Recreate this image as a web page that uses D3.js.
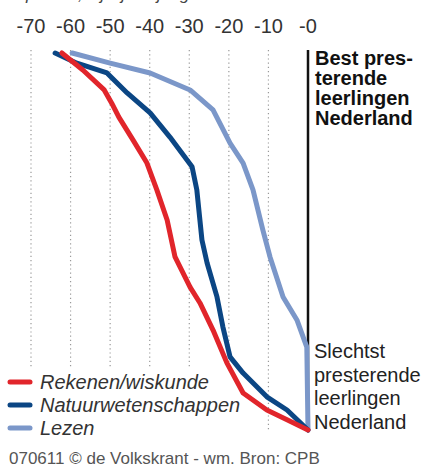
<!DOCTYPE html>
<html>
<head>
<meta charset="utf-8">
<script src="https://cdn.jsdelivr.net/npm/d3@7"></script>
<style>
  body { margin: 0; background: #fff; }
  svg { display: block; font-family: "Liberation Sans", Arial, sans-serif; }
</style>
</head>
<body>
<svg id="chart" width="423" height="468"></svg>
<script>
// DATA - achterstand in punten (x) per positie in de rangorde (y, 0 = best, 100 = slechtst)
var xTicks = [-70, -60, -50, -40, -30, -20, -10, 0];
var seriesNames = ["Rekenen/wiskunde", "Natuurwetenschappen", "Lezen"];
var seriesColours = ["#e1252b", "#0b4684", "#7b97c9"];

var rekenenGap = [-62.2, -56.9, -51.5, -49.6, -47.8, -44.2, -40.7, -38.2, -35.6, -33.6, -29.8, -27.3, -24.0, -20.5, -16.4, -10.4, -5.3, 0];
var rekenenRank = [0, 4.5, 9.8, 13.3, 17.0, 23.1, 29.2, 36.3, 44.3, 54.1, 62.1, 66.3, 73.5, 82.2, 90.2, 94.7, 97.3, 100];

var natuurGap = [-63.9, -58.4, -50.8, -45.7, -39.9, -34.9, -29.3, -28.1, -26.8, -25.5, -23.0, -21.5, -19.7, -16.4, -10.4, -5.3, 0];
var natuurRank = [0, 2.7, 5.3, 10.6, 15.9, 22.3, 30.2, 36.3, 49.6, 55.7, 64.7, 72.7, 80.6, 84.9, 91.2, 94.7, 100];

var lezenGap = [-59.6, -50.0, -39.9, -29.8, -24.0, -19.7, -16.4, -13.9, -11.4, -9.6, -6.3, -2.8, -0.3, 0];
var lezenRank = [0, 2.7, 5.3, 9.8, 15.1, 23.9, 29.2, 36.3, 47.0, 54.1, 64.7, 70.8, 78.0, 100];

var svg = d3.select("#chart");

var xScale = d3.scaleLinear().domain([-70, 0]).range([31, 308]);
var yScale = d3.scaleLinear().domain([0, 100]).range([53, 430]);

// subtitle, mostly cut off at the top edge
svg.append("text")
  .attr("x", 8).attr("y", 0)
  .style("font-size", "17px").style("font-style", "italic").attr("fill", "#444")
  .text("in punten, bij vijftienjarigen");

// tick labels
svg.selectAll("text.tick")
  .data(xTicks)
  .enter().append("text")
  .attr("class", "tick")
  .attr("x", d => xScale(d))
  .attr("y", 33)
  .attr("text-anchor", "middle")
  .style("font-size", "20px")
  .attr("fill", "#333")
  .text(d => "-" + Math.abs(d));

// dotted grid
svg.selectAll("line.grid")
  .data(xTicks.slice(0, -1))
  .enter().append("line")
  .attr("class", "grid")
  .attr("x1", d => xScale(d)).attr("x2", d => xScale(d))
  .attr("y1", 50).attr("y2", 430)
  .attr("stroke", "#999")
  .attr("stroke-width", 1.2)
  .attr("stroke-dasharray", "1.2,3");

// legend (with white backing that hides the grid)
var legend = svg.append("g");
var legendBg = legend.append("rect").attr("fill", "#fff");
var rows = legend.selectAll("g.row")
  .data(seriesNames)
  .enter().append("g")
  .attr("class", "row")
  .attr("transform", (d, i) => "translate(0," + (382 + i * 23) + ")");
rows.append("line")
  .attr("x1", 10).attr("x2", 30)
  .attr("stroke", (d, i) => seriesColours[i])
  .attr("stroke-width", 5)
  .attr("stroke-linecap", "round");
rows.append("text")
  .attr("x", 40).attr("y", 7)
  .style("font-size", "20px").style("font-style", "italic")
  .attr("fill", "#333")
  .text(d => d);
var bb = legend.node().getBBox();
legendBg.attr("x", 0).attr("y", 367).attr("width", bb.x + bb.width + 2).attr("height", 80);

// vertical black axis
svg.append("line")
  .attr("x1", xScale(0)).attr("x2", xScale(0))
  .attr("y1", 50).attr("y2", 430)
  .attr("stroke", "#111").attr("stroke-width", 2.5);

var line = d3.line()
  .x(d => xScale(d[0]))
  .y(d => yScale(d[1]))
  .curve(d3.curveLinear);

var series = [
  { gap: lezenGap, rank: lezenRank, colour: seriesColours[2] },
  { gap: natuurGap, rank: natuurRank, colour: seriesColours[1] },
  { gap: rekenenGap, rank: rekenenRank, colour: seriesColours[0] }
];

svg.selectAll("path.serie")
  .data(series)
  .enter().append("path")
  .attr("class", "serie")
  .attr("d", s => line(s.gap.map((g, i) => [g, s.rank[i]])))
  .attr("fill", "none")
  .attr("stroke", s => s.colour)
  .attr("stroke-width", 5)
  .attr("stroke-linejoin", "round")
  .attr("stroke-linecap", "round");

// annotations
var best = ["Best pres-", "terende", "leerlingen", "Nederland"];
svg.selectAll("text.best")
  .data(best)
  .enter().append("text")
  .attr("x", 315)
  .attr("y", (d, i) => 65 + i * 20)
  .style("font-size", "20px").style("font-weight", "bold")
  .attr("fill", "#111")
  .text(d => d);

var worst = ["Slechtst", "presterende", "leerlingen", "Nederland"];
svg.selectAll("text.worst")
  .data(worst)
  .enter().append("text")
  .attr("x", 314)
  .attr("y", (d, i) => 358 + i * 23.6)
  .style("font-size", "20px")
  .attr("fill", "#222")
  .text(d => d);

// footer
svg.append("text")
  .attr("x", 9).attr("y", 464)
  .style("font-size", "17px")
  .attr("fill", "#555")
  .text("070611 \u00a9 de Volkskrant - wm. Bron: CPB");
</script>
</body>
</html>
